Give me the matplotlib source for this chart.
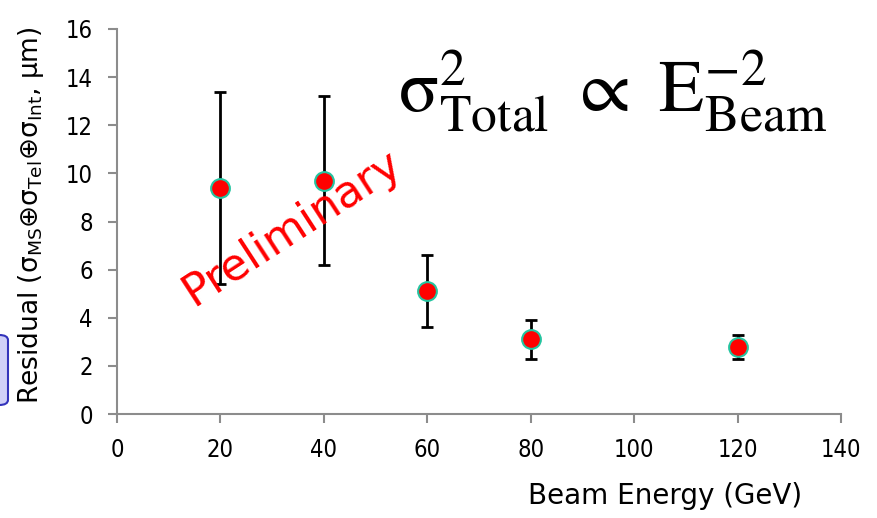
import matplotlib
matplotlib.use("Agg")
import matplotlib.pyplot as plt
import matplotlib.patches as patches

# datos
energia = [20, 40, 60, 80, 120]
residual = [9.4, 9.7, 5.1, 3.1, 2.8]
err_arriba = [4.0, 3.5, 1.5, 0.8, 0.5]
err_abajo = [4.0, 3.5, 1.5, 0.8, 0.5]
xticks = [0, 20, 40, 60, 80, 100, 120, 140]
yticks = [0, 2, 4, 6, 8, 10, 12, 14, 16]

fig = plt.figure(figsize=(8.77, 5.18), dpi=100)
ax = fig.add_axes([117/877, 1 - 414/518, (841-117)/877, (414-29)/518])

ax.errorbar(energia, residual, yerr=[err_abajo, err_arriba], fmt='none',
            ecolor='black', elinewidth=2, capsize=4.5, capthick=2, zorder=2)
ax.plot(energia, residual, 'o', color='red', markeredgecolor='#25c4a0',
        markeredgewidth=1.5, markersize=13.5, zorder=3)

ax.set_xlim(0, 140)
ax.set_ylim(0, 16)
ax.set_xticks(xticks)
ax.set_yticks(yticks)

gris = '#8c8c8c'
for s in ['top', 'right']:
    ax.spines[s].set_visible(False)
for s in ['left', 'bottom']:
    ax.spines[s].set_color(gris)
    ax.spines[s].set_linewidth(1.5)
ax.tick_params(axis='both', colors=gris, length=6.5, width=1.5, labelcolor='black',
               labelsize=17, pad=11)
for lab in ax.get_xticklabels() + ax.get_yticklabels():
    lab.set_fontstretch('condensed')

fig.text(665/877, 1 - 496/518, 'Beam Energy (GeV)', ha='center', va='center',
         fontsize=20)
fig.text(31/877, 1 - 215/518,
         r'Residual (σ$_{\mathrm{MS}}$⊕σ$_{\mathrm{Tel}}$⊕σ$_{\mathrm{Int}}$, μm)',
         rotation=90, ha='center', va='center', fontsize=19)

# formula
plt.rcParams['mathtext.fontset'] = 'stix'
fig.text(612/877, 1 - 92/518,
         r'$\mathrm{σ}^{2}_{\mathrm{Total}}\ \propto\ \mathrm{E}^{-2}_{\mathrm{Beam}}$',
         ha='center', va='center', fontsize=53, family='serif')

# marca de agua
fig.text(292/877, 1 - 228/518, 'Preliminary', color='red', rotation=33,
         ha='center', va='center', fontsize=32)

# caja azul cortada a la izquierda
caja = patches.FancyBboxPatch((-20/877, 1 - 405/518), 28/877, 70/518,
                              boxstyle='round,pad=0,rounding_size=0.01',
                              transform=fig.transFigure, facecolor='#d0d0f8',
                              edgecolor='#3333bb', linewidth=1.5)
fig.patches.append(caja)

fig.savefig('out.png', dpi=100)
